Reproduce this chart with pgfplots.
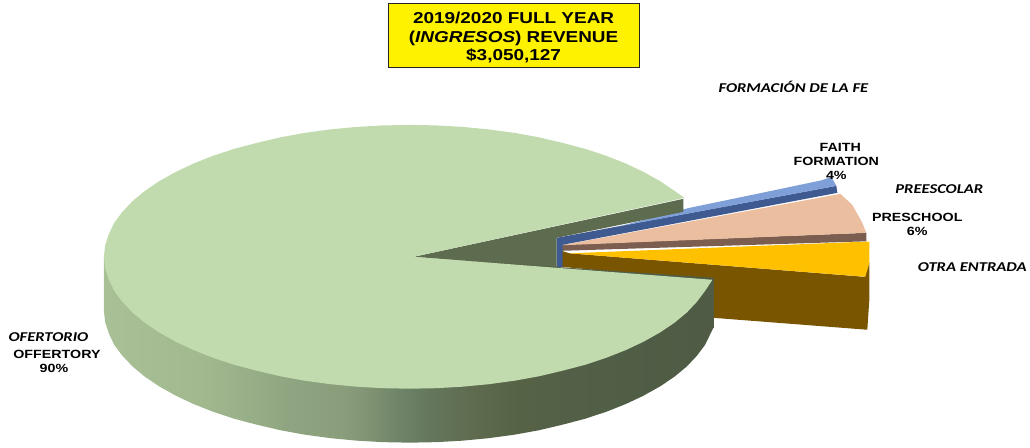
\documentclass[border=0pt]{standalone}
\usepackage{pgfplots}
\pgfplotsset{compat=1.18}
\usepackage{fontspec}
\setmainfont[FakeStretch=1.2]{Liberation Sans}
\newfontfamily\calfont[FakeStretch=1.23]{Carlito}
\definecolor{w0}{HTML}{A9C096}
\definecolor{w1}{HTML}{A2B98F}
\definecolor{w2}{HTML}{8FA581}
\definecolor{w3}{HTML}{8A9D7B}
\definecolor{w4}{HTML}{7D9070}
\definecolor{w5}{HTML}{6E8367}
\definecolor{w6}{HTML}{64775C}
\definecolor{w7}{HTML}{5F6C4F}
\definecolor{w8}{HTML}{566246}
\definecolor{w9}{HTML}{515F47}
\definecolor{w10}{HTML}{4F5B44}
\definecolor{greentop}{HTML}{C1DBAE}
\definecolor{greenback}{HTML}{5D6B4E}
\definecolor{goldside}{HTML}{7A5500}
\definecolor{goldtop}{HTML}{FFC000}
\definecolor{peach}{HTML}{EBBEA0}
\definecolor{brownside}{HTML}{7B5E50}
\definecolor{bluetop}{HTML}{7F9FD8}
\definecolor{blueside}{HTML}{3F5A90}
\pgfdeclarehorizontalshading{wall}{100bp}{%
color(0bp)=(w0); color(25bp)=(w0); color(32.9bp)=(w1); color(40.2bp)=(w2);
color(44.8bp)=(w3); color(47.2bp)=(w4); color(49.3bp)=(w5); color(51.8bp)=(w6);
color(55bp)=(w7); color(59.1bp)=(w8); color(65.7bp)=(w9); color(75bp)=(w10); color(100bp)=(w10)}
\newcommand{\lab}{\fontsize{11.9}{13}\selectfont\bfseries}
\newcommand{\ita}{\fontsize{13.5}{15}\selectfont\calfont\bfseries\itshape}
\newcommand{\ttl}{\fontsize{15.8}{18}\selectfont\bfseries}
\begin{document}
\begin{tikzpicture}
\begin{axis}[
  scale only axis, width=1030pt, height=448pt,
  xmin=0, xmax=1030, ymin=0, ymax=448, y dir=reverse,
  hide axis, clip=false,
]
\addplot[draw=none, fill=none] coordinates {(0,0)(1030,0)(1030,448)(0,448)} --cycle;
% gold slice, side then top
\addplot[fill=goldside, draw=none] coordinates {(562,251)(570,253.5)(865,277)(870,263)(870,300)(868,330)(713,318)(700,280)(562,267)} --cycle;
\addplot[fill=goldtop, draw=none] coordinates {(570,253.5)(870,241.7)(870,263)(866,277)} --cycle;
% peach slice
\addplot[fill=brownside, draw=none] coordinates {(562,245)(867,233)(867,241.5)(562,251)} --cycle;
\addplot[fill=peach, draw=none] coordinates {(562,245.5)(841,194)(853,205)(863,223)(867,233)} --cycle;
% blue slice
\addplot[fill=blueside, draw=none] coordinates {(557,238)(837,186)(838,193)(563,245)(563,267)(557,267)} --cycle;
\addplot[fill=bluetop, draw=none] coordinates {(620,226.5)(690,208)(760,193.5)(822,180.5)(832,177)(837,186)} --cycle;
% inner wall of the green slice
\addplot[fill=greenback, draw=none] coordinates {(414,257)(684,199)(684,212)(557,238)(557,268)} --cycle;
% outer wall of the green slice
\addplot[shade, shading=wall, draw=none] coordinates {
(104,257)(104,311)(105.2,322.5)(109,334)(114.4,345.2)(122.5,356)(132.7,366.8)(145,377)(159.4,386.7)
(176,396)(193.6,404.3)(213,412)(234.5,419.1)(257,425)(280.7,430.6)(305,435)(330.8,438.5)(357,441)(383.3,442.5)
(410,443)(436.7,442.5)(463,441)(489.2,438.5)(515,435)(539.3,430.6)(563,425)(585.5,419.1)(607,412)(626.4,404.3)
(644,396)(660.6,386.7)(675,377)(687.3,366.8)(697.5,356)(705.6,345.2)(711,334)(714,328)(714,278)(410,257)} --cycle;
% top face of the green slice
\addplot[fill=greentop, draw=none] coordinates {
(685,198)(675,191)(660.6,181.3)(644,172)(626.4,163.7)(607,156)(585.5,148.9)(563,143)(539.3,137.4)(515,133)(489.2,129.5)(463,127)(436.7,125.5)
(410,125)(383.3,125.5)(357,127)(330.8,129.5)(305,133)(280.7,137.4)(257,143)(234.5,148.9)(213,156)(193.6,163.7)(176,172)(159.4,181.3)
(145,191)(132.7,201.2)(122.5,212)(114.4,222.8)(109,234)(105.2,245.5)(104,257)(105.2,268.5)(109,280)(114.4,291.2)(122.5,302)(132.7,312.8)
(145,323)(159.4,332.7)(176,342)(193.6,350.3)(213,358)(234.5,365.1)(257,371)(280.7,376.6)(305,381)(330.8,384.5)(357,387)(383.3,388.5)
(410,389)(436.7,388.5)(463,387)(489.2,384.5)(515,381)(539.3,376.6)(563,371)(585.5,365.1)(607,358)(626.4,350.3)(644,342)(660.6,332.7)
(675,323)(687.3,312.8)(697.5,302)(705.6,291.2)(713,280)(414,257)} --cycle;
% title box
\addplot[fill=yellow, draw=black!85, line width=1pt] coordinates {(388.5,3.5)(640,3.5)(640,68)(388.5,68)} --cycle;
\node[anchor=base] at (514,23.3) {\ttl 2019/2020 FULL YEAR};
\node[anchor=base] at (514,42.3) {\ttl (\textit{INGRESOS}) REVENUE};
\node[anchor=base] at (514,60.7) {\ttl \$3,050,127};
% labels
\node[anchor=base] at (794,92.5) {\ita FORMACIÓN DE LA FE};
\node[anchor=base] at (841,151.3) {\lab FAITH};
\node[anchor=base] at (837,165.3) {\lab FORMATION};
\node[anchor=base] at (837,179.3) {\lab 4\%};
\node[anchor=base] at (940,193.3) {\ita PREESCOLAR};
\node[anchor=base] at (918,221.3) {\lab PRESCHOOL};
\node[anchor=base] at (918,235.3) {\lab 6\%};
\node[anchor=base] at (973,271.3) {\ita OTRA ENTRADA};
\node[anchor=base] at (48.5,341.3) {\ita OFERTORIO};
\node[anchor=base] at (57,358.3) {\lab OFFERTORY};
\node[anchor=base] at (54,372.3) {\lab 90\%};
\end{axis}
\end{tikzpicture}
\end{document}
